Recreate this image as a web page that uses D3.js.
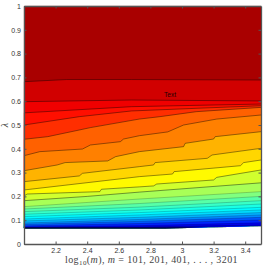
<!DOCTYPE html>
<html>
<head>
<meta charset="utf-8">
<script src="https://cdn.jsdelivr.net/npm/d3@7"></script>
<style>
  html, body { margin: 0; padding: 0; background: #fff; }
  svg { display: block; }
  .axis text { font-family: "Liberation Sans", sans-serif; font-size: 7px; fill: #333; }
  .axis path, .axis line { stroke: #555; }
  .axis path { stroke-width: 1.3; }
</style>
</head>
<body>
<svg id="chart"></svg>
<script>
// contour lines, top to bottom: [log10(m), lambda]
const c01 = [[2,.682],[2.27,.691],[2.68,.691],[3.5,.689]];
const c02 = [[2,.598],[2.68,.605],[3.5,.601]];
const c03 = [[2,.551],[2.68,.577],[3.05,.582],[3.5,.588]];
const c04 = [[2,.5],[2.35,.535],[2.68,.559],[3.05,.569],[3.5,.581]];
const c05 = [[2,.44],[2.15,.451],[2.35,.479],[2.42,.489],[2.73,.525],[2.86,.535],[3.09,.556],[3.5,.574]];
const c06 = [[2,.371],[2.1,.388],[2.37,.399],[2.42,.416],[2.61,.43],[2.63,.441],[2.73,.455],[2.91,.471],[3.01,.5],[3.22,.525],[3.5,.542]];
const c07 = [[2,.308],[2.21,.332],[2.26,.342],[2.53,.349],[2.58,.367],[2.73,.388],[3.01,.409],[3.02,.423],[3.2,.441],[3.21,.451],[3.5,.472]];
const c08 = [[2,.262],[2.35,.286],[2.37,.297],[2.73,.325],[2.82,.332],[2.83,.342],[3.16,.36],[3.19,.374],[3.5,.402]];
const c09 = [[2,.227],[2.73,.283],[2.94,.294],[2.95,.304],[3.37,.329],[3.39,.342],[3.5,.353]];
const c10 = [[2,.202],[2.02,.21],[2.48,.22],[2.49,.23],[2.73,.24],[2.82,.244],[2.84,.252],[3.2,.269],[3.22,.28],[3.5,.311]];
const c11 = [[2,.182],[2.4,.2],[2.73,.218],[3.5,.257]];
const c12 = [[2,.157],[2.73,.189],[3.5,.22]];
const c13 = [[2,.147],[2.73,.17],[3.5,.2]];
const c14 = [[2,.136],[2.73,.155],[3.5,.182]];
const c15 = [[2,.125],[2.73,.143],[3.5,.168]];
const c16 = [[2,.115],[2.73,.132],[3.5,.154]];
const c17 = [[2,.105],[2.73,.122],[3.5,.143]];
const c18 = [[2,.097],[2.73,.112],[3.5,.132]];
const c19 = [[2,.088],[2.73,.103],[3.5,.122]];
const c20 = [[2,.082],[2.73,.095],[3.5,.112]];
const c21 = [[2,.076],[2.73,.086],[3.5,.101]];
const c22 = [[2,.071],[2.73,.077],[3.5,.089]];
const c23 = [[2,.068],[2.73,.071],[3.5,.08]];
const bottomEdge = [[2,.067],[2.9,.067],[3.5,.077]];
const topEdge = [[2,1],[3.5,1]];
const contours = [c01,c02,c03,c04,c05,c06,c07,c08,c09,c10,c11,c12,c13,c14,c15,c16,c17,c18,c19,c20,c21,c22,c23];

// position on the jet map of each band, top to bottom
const bandLevels = [.96,.92,.89,.86,.83,.78,.75,.70,.665,.63,.58,.54,.50,.46,.43,.40,.37,.34,.30,.26,.21,.16,.11,.07];

const xTicks = [2.2,2.4,2.6,2.8,3,3.2,3.4];
const yTicks = [0,.1,.2,.3,.4,.5,.6,.7,.8,.9,1];

const width = 264, height = 268;
const margin = { top: 6, right: 3, bottom: 24, left: 24 };

const svg = d3.select('#chart').attr('width', width).attr('height', height);

const xScale = d3.scaleLinear().domain([2, 3.5]).range([margin.left, width - margin.right]);
const yScale = d3.scaleLinear().domain([0, 1]).range([height - margin.bottom, margin.top]);

const jet = d3.scaleLinear()
  .domain([0, .125, .375, .625, .875, 1])
  .range(['#00008f', '#0000ff', '#00ffff', '#ffff00', '#ff0000', '#800000']);

const line = d3.line().x(d => xScale(d[0])).y(d => yScale(d[1]));

// filled bands, each one painted from its upper edge down to the bottom edge
const bandEdges = [topEdge].concat(contours);
const bottomReversed = bottomEdge.slice().reverse();
svg.append('g').selectAll('path')
  .data(bandEdges)
  .join('path')
  .attr('d', d => line(d.concat(bottomReversed)) + 'Z')
  .attr('fill', (d, i) => jet(bandLevels[i]))
  .attr('stroke', (d, i) => jet(bandLevels[i]))
  .attr('stroke-width', 0.2);

// contour lines, the tightly packed lower ones are fainter
svg.append('g').selectAll('path')
  .data(contours)
  .join('path')
  .attr('d', line)
  .attr('fill', 'none')
  .attr('stroke', '#000')
  .attr('stroke-opacity', (d, i) => i < 11 ? 0.6 : 0.28)
  .attr('stroke-width', 0.7);

// bottom contour is black on the left and fades out towards the right
const fade = svg.append('defs').append('linearGradient')
  .attr('id', 'fade')
  .attr('gradientUnits', 'userSpaceOnUse')
  .attr('x1', xScale(2.9)).attr('x2', xScale(3.15))
  .attr('y1', 0).attr('y2', 0);
fade.append('stop').attr('offset', 0).attr('stop-color', '#000').attr('stop-opacity', 1);
fade.append('stop').attr('offset', 1).attr('stop-color', '#000').attr('stop-opacity', 0);

svg.append('path')
  .attr('d', line(bottomEdge))
  .attr('fill', 'none')
  .attr('stroke', 'url(#fade)')
  .attr('stroke-width', 1);

// axes, with the ticks pointing inwards on all four sides
const xAxis = d3.axisBottom(xScale).tickValues(xTicks).tickFormat(d => d).tickSizeInner(-2.5).tickSizeOuter(0).tickPadding(4);
const yAxis = d3.axisLeft(yScale).tickValues(yTicks).tickFormat(d => d).tickSizeInner(-2.5).tickSizeOuter(0).tickPadding(3);
const xAxisTop = d3.axisTop(xScale).tickValues(xTicks).tickFormat('').tickSizeInner(-2.5).tickSizeOuter(0);
const yAxisRight = d3.axisRight(yScale).tickValues(yTicks).tickFormat('').tickSizeInner(-2.5).tickSizeOuter(0);

svg.append('g').attr('class', 'axis').attr('transform', `translate(0,${height - margin.bottom})`).call(xAxis);
svg.append('g').attr('class', 'axis').attr('transform', `translate(${margin.left},0)`).call(yAxis);
svg.append('g').attr('class', 'axis').attr('transform', `translate(0,${margin.top})`).call(xAxisTop);
svg.append('g').attr('class', 'axis').attr('transform', `translate(${width - margin.right},0)`).call(yAxisRight);

// labels
svg.append('text')
  .attr('x', 170).attr('y', 97)
  .attr('text-anchor', 'middle')
  .attr('font-family', 'Liberation Sans, sans-serif')
  .attr('font-size', 6.5)
  .attr('fill', '#200')
  .text('Text');

svg.append('text')
  .attr('transform', 'translate(8,125) rotate(-90)')
  .attr('text-anchor', 'middle')
  .attr('font-family', 'Liberation Serif, serif')
  .attr('font-style', 'italic')
  .attr('font-size', 10)
  .attr('fill', '#333')
  .text('λ');

const xLabel = svg.append('text')
  .attr('x', 151.5).attr('y', 263)
  .attr('text-anchor', 'middle')
  .attr('font-family', 'Liberation Serif, serif')
  .attr('font-size', 10)
  .attr('letter-spacing', 0.4)
  .attr('fill', '#444');
xLabel.append('tspan').text('log');
xLabel.append('tspan').attr('font-size', 7).attr('dy', 2).text('10');
xLabel.append('tspan').attr('dy', -2).text('(');
xLabel.append('tspan').attr('font-style', 'italic').text('m');
xLabel.append('tspan').text('), ');
xLabel.append('tspan').attr('font-style', 'italic').text('m');
xLabel.append('tspan').text(' = 101, 201, 401, . . . , 3201');
</script>
</body>
</html>
